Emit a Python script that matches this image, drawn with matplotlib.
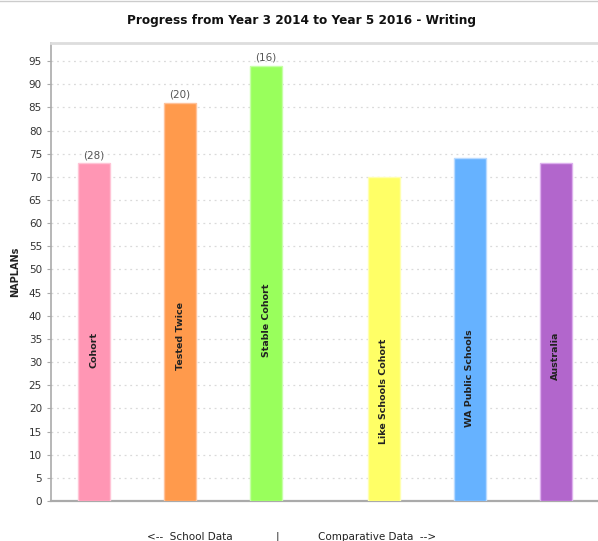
import matplotlib.pyplot as plt
import numpy as np

categories = ['Cohort', 'Tested Twice', 'Stable Cohort',
              'Like Schools Cohort', 'WA Public Schools', 'Australia']
values = [73, 86, 94, 70, 74, 73]
counts = ['(28)', '(20)', '(16)', None, None, None]
colors = ['#FF96B4', '#FF9A4C', '#99FF5C', '#FFFF66', '#66B2FF', '#B266CC']
edges = ['#FFC4D6', '#FFC29A', '#C6FFA6', '#FFFFB0', '#B8DAFF', '#DDB0EE']

# school data vs comparative data, with a wider gap between groups
group_gap = 0.37
x = np.arange(len(categories)) + np.where(np.arange(len(categories)) >= 3, group_gap, 0)

fig = plt.figure(figsize=(5.98, 5.41), dpi=100)
fig.patch.set_facecolor('white')
ax = fig.add_axes([0.0853, 0.0739, 0.9147, 0.8466])

ax.bar(x, values, width=0.37, color=colors, edgecolor=edges, linewidth=1.0, zorder=3)

for xi, v, name, c in zip(x, values, categories, counts):
    ax.text(xi, v / 2, name, rotation=90, ha='center', va='top',
            fontsize=6.8, fontweight='bold', color='#222222', zorder=4)
    if c:
        ax.text(xi, v + 0.6, c, ha='center', va='bottom', fontsize=7.5,
                color='#555555', zorder=4)

ax.set_xlim(-0.5, 5.86)
ax.set_ylim(0, 98.9)
ax.set_yticks(np.arange(0, 96, 5))
ax.set_xticks([])
ax.tick_params(axis='y', labelsize=7.5, colors='#AAAAAA', length=3, width=0.8)
for t in ax.get_yticklabels():
    t.set_color('#333333')
ax.yaxis.grid(True, linestyle=(0, (1.5, 3)), color='#DADADA', linewidth=0.9, zorder=0)

for s in ['left', 'bottom', 'top']:
    ax.spines[s].set_color('#AAAAAA')
ax.spines['left'].set_linewidth(1.2)
ax.spines['bottom'].set_linewidth(1.6)
ax.spines['top'].set_linewidth(2.0)
ax.spines['top'].set_color('#DDDDDD')
ax.spines['right'].set_visible(False)

ax.set_ylabel('NAPLANs', fontsize=7, fontweight='bold', color='#222222', labelpad=6)

fig.text(0.505, 0.963, 'Progress from Year 3 2014 to Year 5 2016 - Writing',
         ha='center', va='center', fontsize=8.7, fontweight='bold', color='#111111')

fig.text(190 / 598, 1 - 537 / 541, '<--  School Data', ha='center', va='center',
         fontsize=7.5, color='#222222')
fig.text(277 / 598, 1 - 537 / 541, '|', ha='center', va='center',
         fontsize=7.5, color='#222222')
fig.text(377 / 598, 1 - 537 / 541, 'Comparative Data  -->', ha='center', va='center',
         fontsize=7.5, color='#222222')

fig.add_artist(plt.Line2D([0, 1], [0.999, 0.999], color='#CCCCCC', lw=1))

plt.savefig('out.png', dpi=100, facecolor='white')
